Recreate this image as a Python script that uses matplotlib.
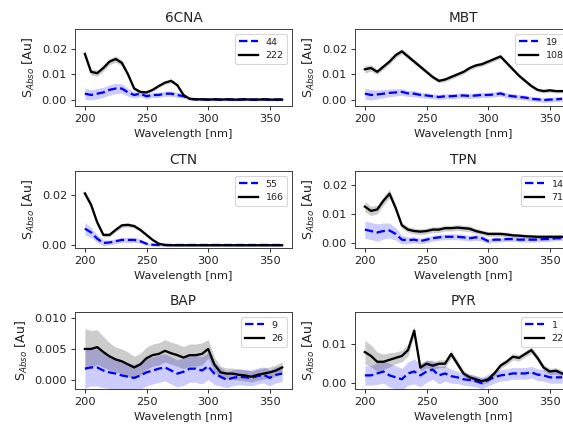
import numpy as np
import matplotlib
matplotlib.use('Agg')
import matplotlib.pyplot as plt

# wavelengths every 5 nm
WAVELENGTH = list(range(200, 361, 5))

TITLES = ['6CNA', 'MBT', 'CTN', 'TPN', 'BAP', 'PYR']
N_LOW = [44, 19, 55, 14, 9, 1]
N_HIGH = [222, 108, 166, 71, 26, 22]

# 6CNA
CNA_LOW = [0.0025, 0.002, 0.0025, 0.003, 0.004, 0.0045, 0.0045, 0.003, 0.002, 0.0025, 0.0015,
           0.002, 0.002, 0.0025, 0.0025, 0.002, 0.0015, 0.0005, 0.0003, 0.0003, 0.0002, 0.0003,
           0.0002, 0.0003, 0.0002, 0.0002, 0.0003, 0.0002, 0.0002, 0.0003, 0.0002, 0.0002, 0.0002]
CNA_LOW_SD = [0.0022, 0.002, 0.002, 0.002, 0.002, 0.002, 0.0018, 0.0015, 0.0012, 0.0012, 0.001,
              0.001, 0.001, 0.001, 0.001, 0.001, 0.0008, 0.0005, 0.0005, 0.0005, 0.0005, 0.0005,
              0.0005, 0.0005, 0.0005, 0.0005, 0.0005, 0.0005, 0.0005, 0.0005, 0.0005, 0.0005, 0.0005]
CNA_HIGH = [0.018, 0.011, 0.0105, 0.0125, 0.015, 0.016, 0.0145, 0.010, 0.0045, 0.0032, 0.003,
            0.004, 0.0055, 0.0068, 0.0075, 0.0058, 0.002, 0.0005, 0.0003, 0.0003, 0.0002, 0.0003,
            0.0002, 0.0003, 0.0002, 0.0002, 0.0003, 0.0002, 0.0002, 0.0003, 0.0002, 0.0002, 0.0002]
CNA_HIGH_SD = [0.0012, 0.0012, 0.0012, 0.0012, 0.0012, 0.0012, 0.0012, 0.001, 0.0008, 0.0006, 0.0006,
               0.0006, 0.0006, 0.0007, 0.0008, 0.0007, 0.0005, 0.0003, 0.0003, 0.0003, 0.0003, 0.0003,
               0.0003, 0.0003, 0.0003, 0.0003, 0.0003, 0.0003, 0.0003, 0.0003, 0.0003, 0.0003, 0.0003]

# MBT
MBT_LOW = [0.0025, 0.002, 0.0022, 0.0025, 0.0028, 0.003, 0.0032, 0.0026, 0.0025, 0.002, 0.0018,
           0.0015, 0.0012, 0.0015, 0.0015, 0.0017, 0.0018, 0.0016, 0.0018, 0.002, 0.002, 0.0022,
           0.0026, 0.0018, 0.0015, 0.0012, 0.001, 0.0005, 0.0003, 0.0, 0.0002, 0.0003, 0.0005]
MBT_LOW_SD = [0.0022, 0.002, 0.0018, 0.0016, 0.0015, 0.0014, 0.0013, 0.0012, 0.0012, 0.0011, 0.001,
              0.001, 0.001, 0.001, 0.001, 0.001, 0.001, 0.001, 0.001, 0.001, 0.001, 0.001,
              0.001, 0.001, 0.001, 0.001, 0.0009, 0.0009, 0.0009, 0.0009, 0.0009, 0.0009, 0.0009]
MBT_HIGH = [0.012, 0.0125, 0.011, 0.013, 0.015, 0.0175, 0.019, 0.017, 0.015, 0.013, 0.011,
            0.009, 0.0075, 0.008, 0.009, 0.010, 0.011, 0.0125, 0.0135, 0.014, 0.015, 0.016,
            0.017, 0.0145, 0.012, 0.0095, 0.0075, 0.0055, 0.004, 0.0035, 0.0038, 0.0035, 0.0035]
MBT_HIGH_SD = [0.0015, 0.0012, 0.001, 0.001, 0.001, 0.001, 0.001, 0.001, 0.0009, 0.0009, 0.0008,
               0.0008, 0.0008, 0.0008, 0.0008, 0.0008, 0.0008, 0.0008, 0.0008, 0.0008, 0.0008, 0.0008,
               0.0008, 0.0008, 0.0008, 0.0008, 0.0007, 0.0007, 0.0007, 0.0007, 0.0007, 0.0007, 0.0007]

# CTN
CTN_LOW = [0.0065, 0.005, 0.0025, 0.0008, 0.001, 0.0015, 0.002, 0.002, 0.002, 0.0015, 0.0005,
           0.0001, 0.0, 0.0, 0.0, 0.0, 0.0, 0.0, 0.0, 0.0, 0.0, 0.0,
           0.0, 0.0, 0.0, 0.0, 0.0, 0.0, 0.0, 0.0, 0.0, 0.0, 0.0]
CTN_LOW_SD = [0.0025, 0.002, 0.0015, 0.0012, 0.001, 0.001, 0.001, 0.001, 0.001, 0.0008, 0.0006,
              0.0005, 0.0005, 0.0005, 0.0005, 0.0005, 0.0005, 0.0005, 0.0005, 0.0005, 0.0005, 0.0005,
              0.0005, 0.0005, 0.0005, 0.0005, 0.0005, 0.0005, 0.0005, 0.0005, 0.0005, 0.0005, 0.0005]
CTN_HIGH = [0.0205, 0.016, 0.009, 0.004, 0.004, 0.006, 0.0078, 0.008, 0.0075, 0.006, 0.004,
            0.002, 0.0005, 0.0, -0.0001, -0.0001, -0.0001, -0.0001, -0.0001, -0.0001, -0.0001, -0.0001,
            -0.0001, -0.0001, -0.0001, -0.0001, -0.0001, -0.0001, -0.0001, -0.0001, -0.0001, -0.0001, -0.0001]
CTN_HIGH_SD = [0.0012, 0.001, 0.001, 0.0008, 0.0008, 0.0008, 0.0008, 0.0008, 0.0008, 0.0007, 0.0006,
               0.0005, 0.0003, 0.0003, 0.0002, 0.0002, 0.0002, 0.0002, 0.0002, 0.0002, 0.0002, 0.0002,
               0.0002, 0.0002, 0.0002, 0.0002, 0.0002, 0.0002, 0.0002, 0.0002, 0.0002, 0.0002, 0.0002]

# TPN
TPN_LOW = [0.0045, 0.004, 0.0035, 0.004, 0.0042, 0.003, 0.001, 0.0008, 0.001, 0.0005, 0.001,
           0.0015, 0.0018, 0.002, 0.002, 0.002, 0.0018, 0.0015, 0.0018, 0.0015, 0.0005, 0.001,
           0.001, 0.0012, 0.0012, 0.001, 0.001, 0.001, 0.001, 0.0012, 0.0012, 0.0015, 0.0015]
TPN_LOW_SD = [0.003, 0.003, 0.003, 0.0028, 0.0026, 0.0022, 0.0015, 0.0012, 0.001, 0.001, 0.001,
              0.001, 0.001, 0.001, 0.001, 0.001, 0.001, 0.001, 0.001, 0.001, 0.0008, 0.0008,
              0.0008, 0.0008, 0.0008, 0.0008, 0.0008, 0.0008, 0.0008, 0.0008, 0.0008, 0.0008, 0.0008]
TPN_HIGH = [0.0125, 0.011, 0.0115, 0.0145, 0.017, 0.012, 0.006, 0.0045, 0.004, 0.0038, 0.004,
            0.0045, 0.0045, 0.005, 0.005, 0.0052, 0.005, 0.0048, 0.004, 0.0035, 0.003, 0.003,
            0.003, 0.0028, 0.0025, 0.0024, 0.0022, 0.0021, 0.002, 0.002, 0.002, 0.002, 0.002]
TPN_HIGH_SD = [0.0018, 0.0016, 0.0015, 0.0015, 0.0015, 0.0012, 0.001, 0.001, 0.001, 0.001, 0.001,
               0.001, 0.001, 0.001, 0.001, 0.001, 0.001, 0.001, 0.0009, 0.0008, 0.0008, 0.0008,
               0.0008, 0.0008, 0.0007, 0.0007, 0.0007, 0.0007, 0.0007, 0.0007, 0.0007, 0.0007, 0.0007]

# BAP
BAP_LOW = [0.0018, 0.002, 0.002, 0.0015, 0.0012, 0.001, 0.0007, 0.0005, 0.0003, 0.0007, 0.0012,
           0.0015, 0.0018, 0.002, 0.0015, 0.001, 0.0013, 0.0018, 0.0018, 0.0015, 0.0022, 0.001,
           0.0005, 0.0, 0.0003, 0.0005, 0.0004, 0.0003, 0.0006, 0.0008, 0.0003, 0.0008, 0.001]
BAP_LOW_SD = [0.0032, 0.003, 0.003, 0.0028, 0.0026, 0.0025, 0.0024, 0.0022, 0.0022, 0.0022, 0.0022,
              0.0022, 0.0022, 0.0022, 0.0022, 0.0022, 0.0022, 0.0022, 0.0022, 0.0022, 0.0022, 0.0018,
              0.0015, 0.0013, 0.0013, 0.0013, 0.0013, 0.0013, 0.0013, 0.0013, 0.0013, 0.0013, 0.0013]
BAP_HIGH = [0.005, 0.005, 0.0053, 0.0045, 0.0038, 0.0033, 0.003, 0.0025, 0.002, 0.0025, 0.0035,
            0.004, 0.0042, 0.0047, 0.0043, 0.004, 0.0036, 0.004, 0.004, 0.0042, 0.005, 0.0025,
            0.0012, 0.001, 0.001, 0.0008, 0.0007, 0.0005, 0.0008, 0.001, 0.0012, 0.0015, 0.002]
BAP_HIGH_SD = [0.0033, 0.003, 0.0028, 0.0025, 0.0022, 0.002, 0.002, 0.002, 0.0018, 0.0018, 0.0018,
               0.0018, 0.0018, 0.0018, 0.0018, 0.0018, 0.0018, 0.0018, 0.0018, 0.0018, 0.0015, 0.0012,
               0.001, 0.0009, 0.0009, 0.0009, 0.0009, 0.0009, 0.0009, 0.0009, 0.0009, 0.0009, 0.0009]

# PYR
PYR_LOW = [0.002, 0.002, 0.0025, 0.003, 0.002, 0.0015, 0.001, 0.0025, 0.003, 0.002, 0.003,
           0.0035, 0.002, 0.0025, 0.0018, 0.0015, 0.001, 0.0008, 0.0005, 0.0, 0.0008, 0.0015,
           0.002, 0.0022, 0.0025, 0.0025, 0.0025, 0.0028, 0.0022, 0.002, 0.0015, 0.0015, 0.0015]
PYR_LOW_SD = [0.0025, 0.0025, 0.0028, 0.003, 0.003, 0.003, 0.0028, 0.003, 0.0032, 0.003, 0.0028,
              0.0025, 0.0022, 0.002, 0.0018, 0.0016, 0.0015, 0.0015, 0.0015, 0.0015, 0.0015, 0.0015,
              0.0015, 0.0015, 0.0015, 0.0015, 0.0015, 0.0015, 0.0015, 0.0015, 0.0015, 0.0015, 0.0015]
PYR_HIGH = [0.008, 0.007, 0.0055, 0.0055, 0.006, 0.0065, 0.007, 0.0085, 0.0135, 0.004, 0.005,
            0.0045, 0.005, 0.005, 0.0075, 0.005, 0.0025, 0.0015, 0.001, 0.0005, 0.001, 0.0025,
            0.0045, 0.0055, 0.0068, 0.0065, 0.0075, 0.0085, 0.0065, 0.004, 0.003, 0.0032, 0.0025]
PYR_HIGH_SD = [0.003, 0.0028, 0.0025, 0.002, 0.0018, 0.0015, 0.0015, 0.0015, 0.0012, 0.001, 0.001,
               0.001, 0.001, 0.001, 0.001, 0.0009, 0.0008, 0.0008, 0.0008, 0.0008, 0.0008, 0.0008,
               0.0008, 0.0008, 0.0008, 0.0008, 0.0008, 0.0008, 0.0008, 0.0008, 0.0008, 0.0008, 0.0008]

LOW = [CNA_LOW, MBT_LOW, CTN_LOW, TPN_LOW, BAP_LOW, PYR_LOW]
LOW_SD = [CNA_LOW_SD, MBT_LOW_SD, CTN_LOW_SD, TPN_LOW_SD, BAP_LOW_SD, PYR_LOW_SD]
HIGH = [CNA_HIGH, MBT_HIGH, CTN_HIGH, TPN_HIGH, BAP_HIGH, PYR_HIGH]
HIGH_SD = [CNA_HIGH_SD, MBT_HIGH_SD, CTN_HIGH_SD, TPN_HIGH_SD, BAP_HIGH_SD, PYR_HIGH_SD]

YLIMS = [(-0.0023, 0.0277), (-0.0023, 0.0277), (-0.0012, 0.0294),
         (-0.0019, 0.0249), (-0.0015, 0.0110), (-0.0015, 0.0183)]
YTICKS = [[0, 0.01, 0.02], [0, 0.01, 0.02], [0, 0.02],
          [0, 0.01, 0.02], [0, 0.005, 0.01], [0, 0.01]]

W, H, DPI = 563, 425, 82
plt.rcParams['text.color'] = '#222222'
plt.rcParams['axes.labelcolor'] = '#222222'
plt.rcParams['xtick.color'] = '#222222'
plt.rcParams['ytick.color'] = '#222222'
plt.rcParams['axes.edgecolor'] = '#333333'
fig = plt.figure(figsize=(W / DPI, H / DPI), dpi=DPI)

# axes boxes in pixels (left, top), right column runs past the image edge
lefts = [75, 355]
tops = [29, 171, 312]
aw, ah = 217, 77

wl = np.array(WAVELENGTH)
for i, title in enumerate(TITLES):
    r, c = divmod(i, 2)
    ax = fig.add_axes([lefts[c] / W, 1 - (tops[r] + ah) / H, aw / W, ah / H])
    lo, lo_sd = np.array(LOW[i]), np.array(LOW_SD[i])
    hi, hi_sd = np.array(HIGH[i]), np.array(HIGH_SD[i])
    ax.fill_between(wl, lo - lo_sd, lo + lo_sd, color='blue', alpha=0.2, lw=0)
    ax.fill_between(wl, hi - hi_sd, hi + hi_sd, color='black', alpha=0.2, lw=0)
    ax.plot(wl, lo, color='blue', ls='--', lw=2, label=str(N_LOW[i]))
    ax.plot(wl, hi, color='black', lw=2, label=str(N_HIGH[i]))
    ax.set_xlim(192, 368)
    ax.set_ylim(*YLIMS[i])
    ax.set_xticks([200, 250, 300, 350])
    ax.set_yticks(YTICKS[i])
    ax.set_title(title)
    ax.set_xlabel('Wavelength [nm]')
    ax.set_ylabel(r'S$_{Abso}$ [Au]', fontsize=11)
    ax.legend(loc='upper right', fontsize='small')

fig.savefig('out.png', dpi=DPI)
